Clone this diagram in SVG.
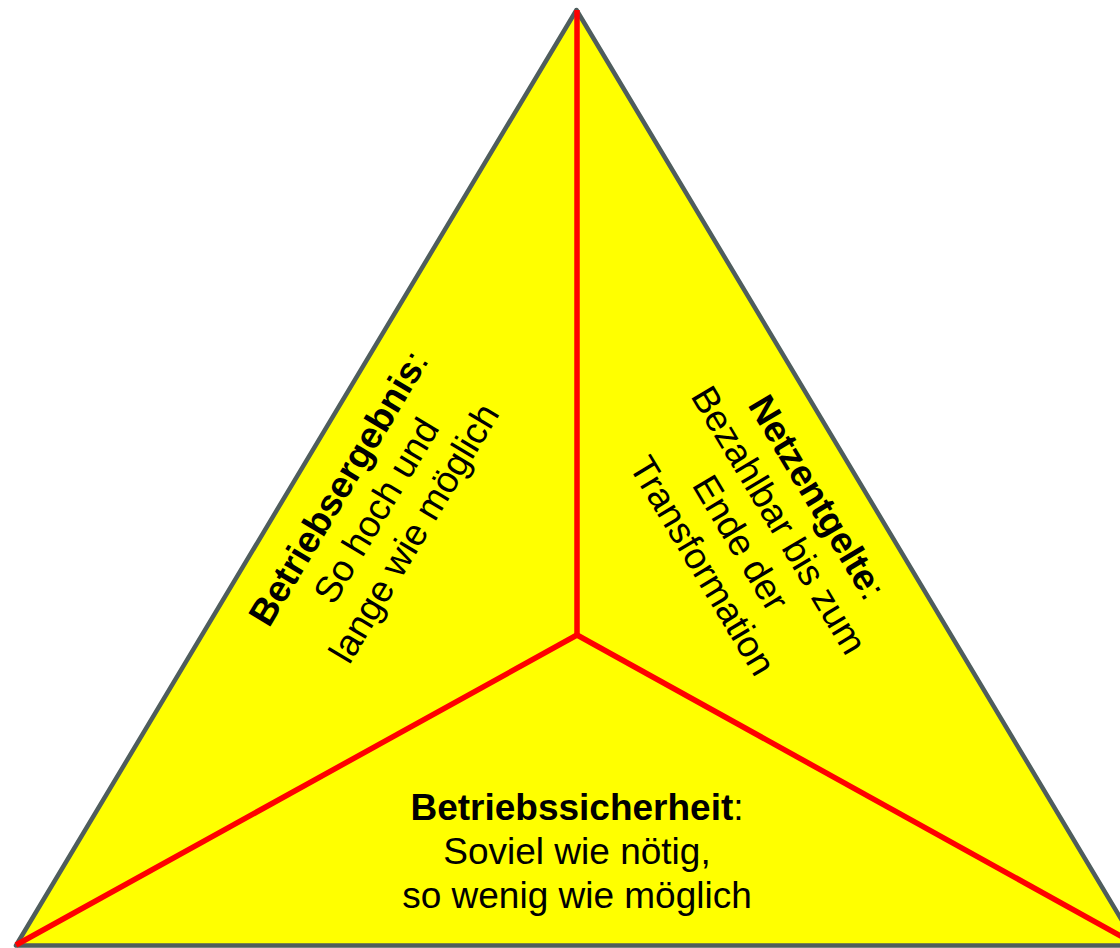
<svg xmlns="http://www.w3.org/2000/svg" width="1120" height="948" viewBox="0 0 1120 948">
<style>
.t{font-family:"Liberation Sans",Arial,sans-serif;font-size:37px;fill:#000;text-anchor:middle}
.b{font-weight:bold}
.div{stroke:#FF0000;stroke-width:5.5;fill:none}
</style>
<rect width="1120" height="948" fill="#FFFFFF"/>
<g id="triangle">
<polygon points="576.5,10 16,945.5 1137,945.5" fill="#FFFF00" stroke="#4F5D5D" stroke-width="4.5" stroke-linejoin="round"/>
</g>
<g id="connectors">
<line class="div" x1="577" y1="635" x2="577" y2="10"/>
<line class="div" x1="577" y1="635" x2="16" y2="945"/>
<line class="div" x1="577" y1="635" x2="1137" y2="945"/>
</g>
<g id="betriebsergebnis" transform="translate(387,517) rotate(-59.1)">
<text class="t" x="0" y="-44"><tspan class="b">Betriebsergebnis</tspan>:</text>
<text class="t" x="0" y="0">So hoch und</text>
<text class="t" x="0" y="44">lange wie möglich</text>
</g>
<g id="netzentgelte" transform="translate(749,538) rotate(59.1)">
<text class="t" x="0" y="-66.75"><tspan class="b">Netzentgelte</tspan>:</text>
<text class="t" x="0" y="-22.25">Bezahlbar bis zum</text>
<text class="t" x="0" y="22.25">Ende der</text>
<text class="t" x="0" y="66.75">Transformation</text>
</g>
<g id="betriebssicherheit">
<text class="t" x="577" y="820"><tspan class="b">Betriebssicherheit</tspan>:</text>
<text class="t" x="577" y="864">Soviel wie nötig,</text>
<text class="t" x="577" y="908">so wenig wie möglich</text>
</g>
</svg>
